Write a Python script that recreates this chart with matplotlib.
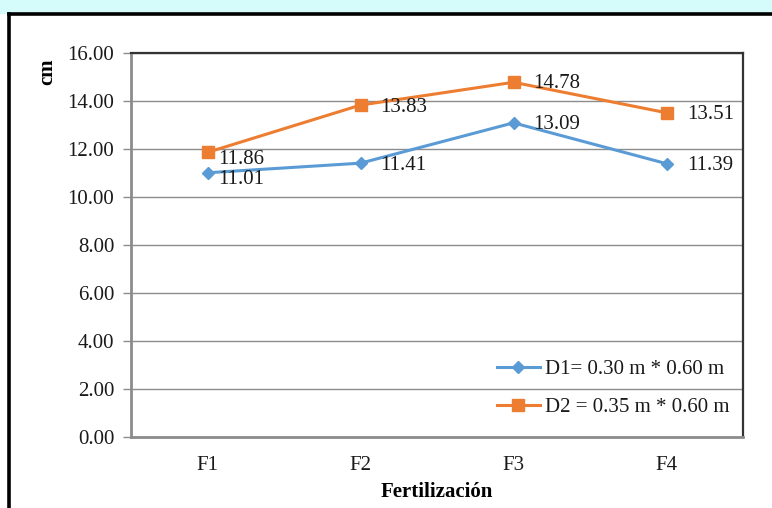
import matplotlib
matplotlib.use("Agg")
import matplotlib.pyplot as plt
from matplotlib.lines import Line2D
from matplotlib.patches import Rectangle

categories = ["F1", "F2", "F3", "F4"]
d1_values = [11.01, 11.41, 13.09, 11.39]
d2_values = [11.86, 13.83, 14.78, 13.51]
d1_label = "D1= 0.30 m * 0.60 m"
d2_label = "D2 = 0.35 m * 0.60 m"
y_ticks = [0, 2, 4, 6, 8, 10, 12, 14, 16]

plt.rcParams['font.family'] = ['Liberation Serif', 'DejaVu Serif']

W, H = 772, 508
FS = 15
fig = plt.figure(figsize=(W / 100, H / 100), dpi=100)
fig.patch.set_facecolor("white")

# top cyan band (background behind the frame)
fig.patches.append(Rectangle((0, 1 - 14 / H), 1, 14 / H, transform=fig.transFigure,
                             facecolor="#d6fbfb", edgecolor="none", zorder=0))
# black outer frame (left and top edges)
fig.add_artist(Line2D([9 / W, 9 / W], [0, 1 - 14 / H], transform=fig.transFigure,
                      color="black", lw=2.6))
fig.add_artist(Line2D([9 / W, 1], [1 - 14 / H, 1 - 14 / H], transform=fig.transFigure,
                      color="black", lw=2.6))

left, right, top, bottom = 131, 743, 53, 437
ax = fig.add_axes([left / W, 1 - bottom / H, (right - left) / W, (bottom - top) / H])

x = list(range(len(categories)))
blue = "#5b9bd5"
orange = "#ed7d31"
ax.plot(x, d1_values, color=blue, lw=2.2, marker="D", markersize=6.5, label=d1_label, zorder=3)
ax.plot(x, d2_values, color=orange, lw=2.2, marker="s", markersize=8, label=d2_label, zorder=3)

ax.set_xlim(-0.5, len(categories) - 0.5)
ax.set_ylim(0, 16)
ax.set_yticks(y_ticks)
ax.set_yticklabels([f"{v:.2f}" for v in y_ticks])
ax.set_xticks(x)
ax.set_xticklabels(categories)
ax.yaxis.grid(True, color="#8c8c8c", lw=1.0)
ax.set_axisbelow(True)

ax.tick_params(axis="y", length=6, width=1, color="#8c8c8c", pad=6, labelsize=FS, labelcolor="#1a1a1a")
ax.tick_params(axis="x", length=0, pad=14, labelsize=FS, labelcolor="#1a1a1a")

for s in ["left", "bottom"]:
    ax.spines[s].set_color("#8c8c8c")
    ax.spines[s].set_linewidth(2.0)
for s in ["top", "right"]:
    ax.spines[s].set_color("#333333")
    ax.spines[s].set_linewidth(1.6)

# data labels
offs_d1 = [(8, -5), (14, -2), (14, -1), (15, -1)]
offs_d2 = [(8, -5), (14, -2), (14, -1), (15, -1)]
for xi, v, o in zip(x, d1_values, offs_d1):
    ax.annotate(f"{v:.2f}", (xi, v), xytext=o, textcoords="offset points",
                ha="left", va="center", fontsize=FS, color="#1a1a1a", zorder=4)
for xi, v, o in zip(x, d2_values, offs_d2):
    ax.annotate(f"{v:.2f}", (xi, v), xytext=o, textcoords="offset points",
                ha="left", va="center", fontsize=FS, color="#1a1a1a", zorder=4)

leg = ax.legend(loc="center left", bbox_to_anchor=(0.598, 0.127), frameon=False,
                fontsize=FS, handlelength=2.05, handletextpad=0.25, labelspacing=0.9,
                borderpad=0, borderaxespad=0)
for t in leg.get_texts():
    t.set_color("#1a1a1a")

fig.text(437 / W, 1 - 492 / H, "Fertilización", ha="center", va="center",
         fontsize=FS, fontweight="bold")
fig.text(47 / W, 1 - 72 / H, "cm", ha="center", va="center", rotation=90,
         fontsize=FS, fontweight="bold")

fig.savefig("out.png", dpi=100)
